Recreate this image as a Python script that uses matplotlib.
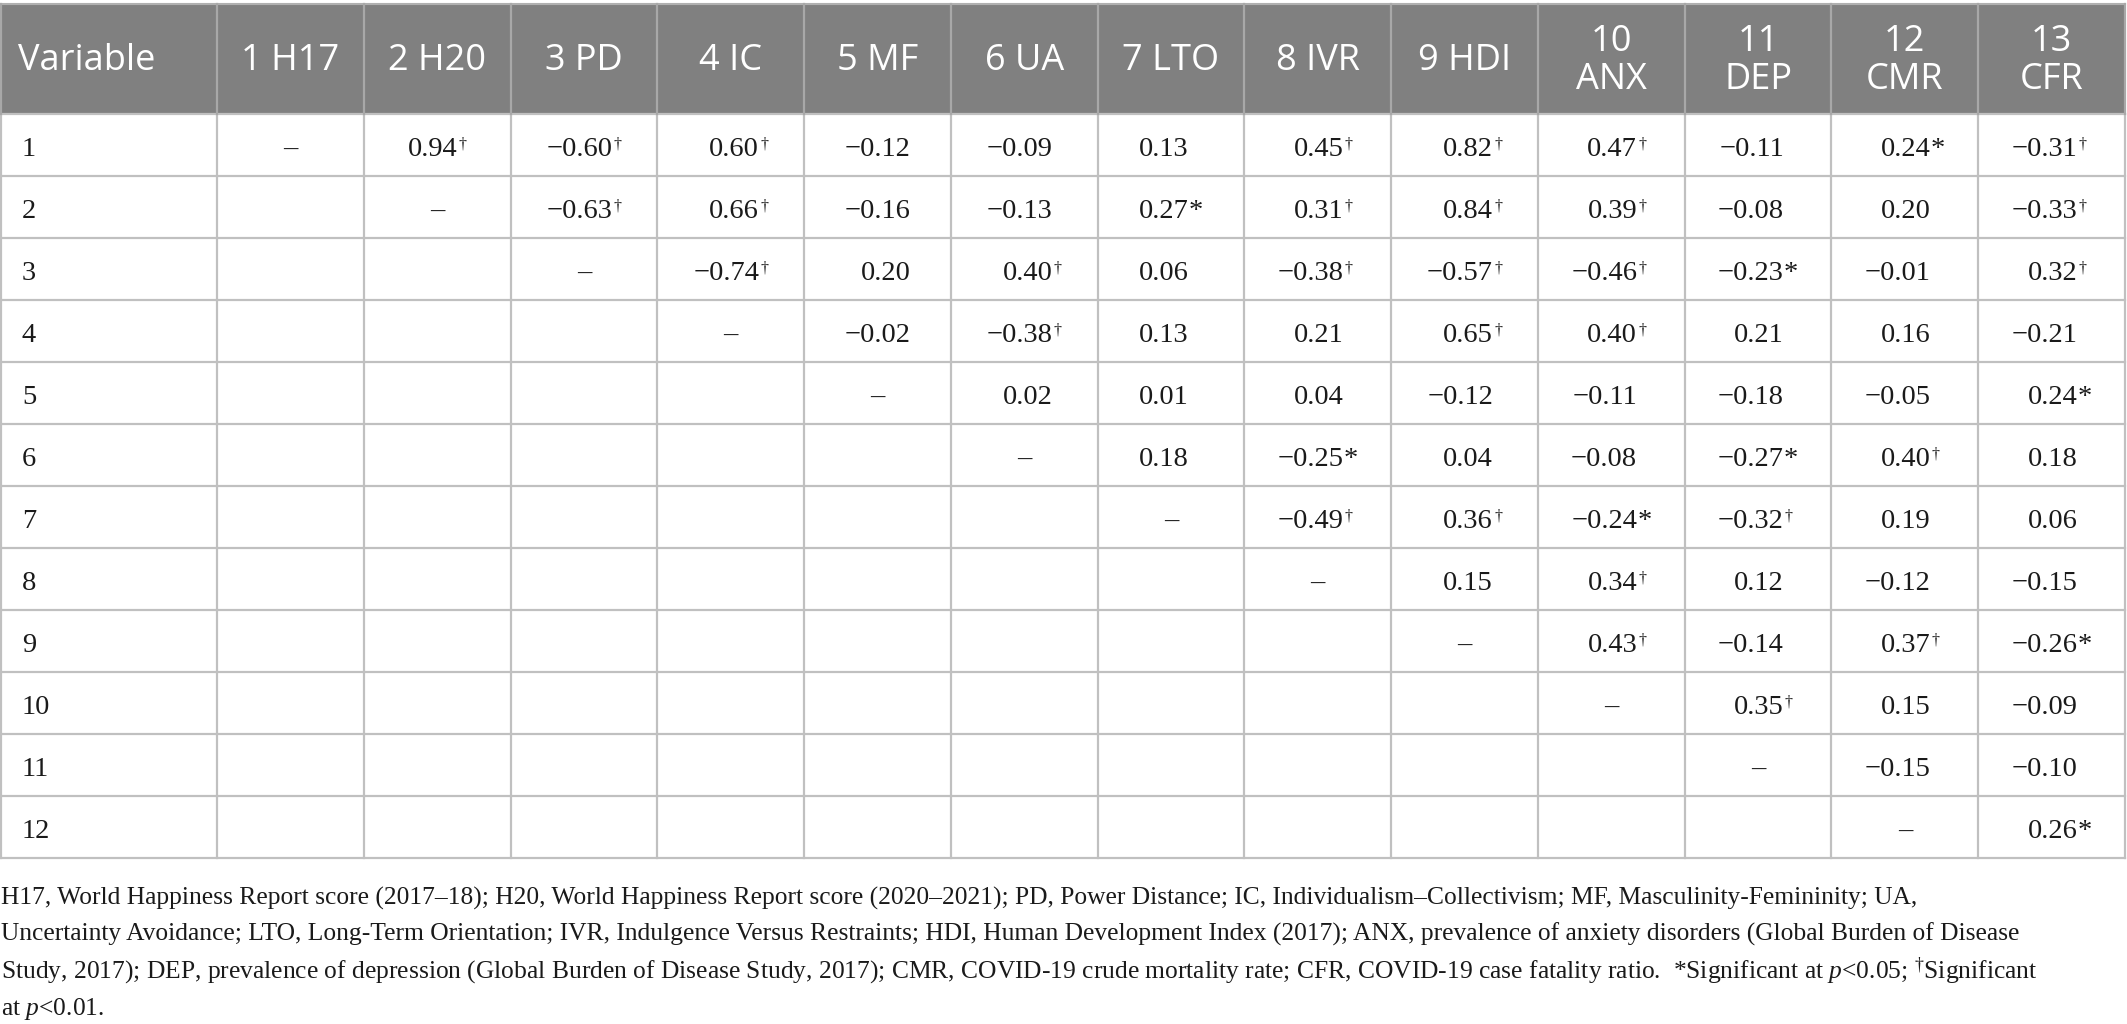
import matplotlib
matplotlib.use("Agg")
import matplotlib.pyplot as plt
from matplotlib.patches import Rectangle

# ---------------- data ----------------
headers = ["1 H17", "2 H20", "3 PD", "4 IC", "5 MF", "6 UA", "7 LTO",
           "8 IVR", "9 HDI", "10\nANX", "11\nDEP", "12\nCMR", "13\nCFR"]
row_labels = [str(i) for i in range(1, 13)]

# correlations of variable k with variables k+1 ... 13
r_1 = [0.94, -0.60, 0.60, -0.12, -0.09, 0.13, 0.45, 0.82, 0.47, -0.11, 0.24, -0.31]
s_1 = ["†", "†", "†", "", "", "", "†", "†", "†", "", "*", "†"]
r_2 = [-0.63, 0.66, -0.16, -0.13, 0.27, 0.31, 0.84, 0.39, -0.08, 0.20, -0.33]
s_2 = ["†", "†", "", "", "*", "†", "†", "†", "", "", "†"]
r_3 = [-0.74, 0.20, 0.40, 0.06, -0.38, -0.57, -0.46, -0.23, -0.01, 0.32]
s_3 = ["†", "", "†", "", "†", "†", "†", "*", "", "†"]
r_4 = [-0.02, -0.38, 0.13, 0.21, 0.65, 0.40, 0.21, 0.16, -0.21]
s_4 = ["", "†", "", "", "†", "†", "", "", ""]
r_5 = [0.02, 0.01, 0.04, -0.12, -0.11, -0.18, -0.05, 0.24]
s_5 = ["", "", "", "", "", "", "", "*"]
r_6 = [0.18, -0.25, 0.04, -0.08, -0.27, 0.40, 0.18]
s_6 = ["", "*", "", "", "*", "†", ""]
r_7 = [-0.49, 0.36, -0.24, -0.32, 0.19, 0.06]
s_7 = ["†", "†", "*", "†", "", ""]
r_8 = [0.15, 0.34, 0.12, -0.12, -0.15]
s_8 = ["", "†", "", "", ""]
r_9 = [0.43, -0.14, 0.37, -0.26]
s_9 = ["†", "", "†", "*"]
r_10 = [0.35, 0.15, -0.09]
s_10 = ["†", "", ""]
r_11 = [-0.15, -0.10]
s_11 = ["", ""]
r_12 = [0.26]
s_12 = ["*"]

r_rows = [r_1, r_2, r_3, r_4, r_5, r_6, r_7, r_8, r_9, r_10, r_11, r_12]
s_rows = [s_1, s_2, s_3, s_4, s_5, s_6, s_7, s_8, s_9, s_10, s_11, s_12]

foot_lines = [
    "H17, World Happiness Report score (2017–18); H20, World Happiness Report score (2020–2021); PD, Power Distance; IC, Individualism–Collectivism; MF, Masculinity-Femininity; UA,",
    "Uncertainty Avoidance; LTO, Long-Term Orientation; IVR, Indulgence Versus Restraints; HDI, Human Development Index (2017); ANX, prevalence of anxiety disorders (Global Burden of Disease",
    r"Study, 2017); DEP, prevalence of depression (Global Burden of Disease Study, 2017); CMR, COVID-19 crude mortality rate; CFR, COVID-19 case fatality ratio.  *Significant at $p$<0.05; ${}^{\dagger}$Significant",
    r"at $p$<0.01.",
]

# ---------------- layout ----------------
plt.rcParams["mathtext.fontset"] = "custom"
plt.rcParams["mathtext.rm"] = "Liberation Serif"
plt.rcParams["mathtext.it"] = "Liberation Serif:italic"

W, H = 2127, 1024
fig = plt.figure(figsize=(W / 100, H / 100), dpi=100)
ax = fig.add_axes([0, 0, 1, 1])
ax.set_xlim(0, W)
ax.set_ylim(H, 0)
ax.axis("off")

ncol = len(headers)
first_w = 217
col_w = (2125 - first_w) / ncol
col_x = [0, first_w] + [first_w + col_w * k for k in range(1, ncol + 1)]
head_top, head_bot = 4, 114
row_h = 62
nrow = len(row_labels)
body_bot = head_bot + row_h * nrow

HEAD_BG = "#808080"
LINE = "#c0c0c0"
TXT = "#1a1a1a"

ax.add_patch(Rectangle((0, head_top), 2125, head_bot - head_top,
                       facecolor=HEAD_BG, edgecolor="none", zorder=1))

# grid lines
ax.plot([0, 2125], [head_top, head_top], color="#b0b0b0", lw=1.5, zorder=3)
for k in range(nrow + 1):
    y = head_bot + row_h * k
    ax.plot([0, 2125], [y, y], color=LINE, lw=1.6, zorder=3)
for i, x in enumerate(col_x):
    xx = min(max(x, 1), 2125)
    ax.plot([xx, xx], [head_bot, body_bot], color=LINE, lw=1.6, zorder=3)
    ax.plot([xx, xx], [head_top, head_bot], color="#a8a8a8", lw=1.6, zorder=3)

# header text
HEADF = dict(family="Open Sans", fontsize=26, color="white")
head_cy = (head_top + head_bot) / 2 + 2
ax.text(18, head_cy, "Variable", ha="left", va="center", zorder=4, **HEADF)
for j, h in enumerate(headers):
    cx = (col_x[j + 1] + col_x[j + 2]) / 2
    ax.text(cx, head_cy, h, ha="center", va="center", linespacing=1.1,
            zorder=4, **HEADF)

# body text
NUM = dict(family="Liberation Serif", fontsize=20.5, color=TXT)
SUP = dict(family="Liberation Serif", fontsize=11.5, color=TXT)
renderer = fig.canvas.get_renderer()


def width_of(s, **kw):
    t = ax.text(0, 0, s, **kw)
    w = t.get_window_extent(renderer).width
    t.remove()
    return w


D = width_of("0.00", **NUM)
M = width_of("\u22120.00", **NUM) - D
S_AST = width_of("0.00*", **NUM) - D
S_DAG = width_of("†", **SUP) + 1

# build grid
cells = {}
for i in range(nrow):
    for k, (v, s) in enumerate(zip(r_rows[i], s_rows[i])):
        cells[(i, i + 1 + k)] = (v, s)

for j in range(ncol):
    cx = (col_x[j + 1] + col_x[j + 2]) / 2
    entries = [cells[(i, j)] for i in range(nrow) if (i, j) in cells]
    has_minus = any(v < 0 for v, _ in entries)
    sup_w = 0
    for _, s in entries:
        if s == "*":
            sup_w = max(sup_w, S_AST)
        elif s == "†":
            sup_w = max(sup_w, S_DAG)
    block = (M if has_minus else 0) + D + sup_w
    x_r = cx - block / 2 + (M if has_minus else 0) + D
    for i in range(nrow):
        cy = head_bot + row_h * i + row_h / 2
        base = cy + 11
        if i == j:
            ax.text(cx, base, "\u2013", ha="center", va="baseline", zorder=4, **NUM)
        elif (i, j) in cells:
            v, s = cells[(i, j)]
            txt = f"{abs(v):.2f}"
            if v < 0:
                txt = "\u2212" + txt
            ax.text(x_r, base, txt, ha="right", va="baseline", zorder=4, **NUM)
            if s == "*":
                ax.text(x_r, base, "*", ha="left", va="baseline", zorder=4, **NUM)
            elif s == "†":
                ax.text(x_r + 1, base - 8, "†", ha="left", va="baseline",
                        zorder=4, **SUP)

for i, lab in enumerate(row_labels):
    cy = head_bot + row_h * i + row_h / 2
    ax.text(22, cy + 11, lab, ha="left", va="baseline", zorder=4, **NUM)

# footnote
FOOT = dict(family="Liberation Serif", color=TXT)
targets = [1920, 2118, 2118]
fsize = min(20 * t / width_of(l, fontsize=20, **FOOT)
            for t, l in zip(targets, foot_lines[:3]))
foot_base = [905, 941, 978, 1015]
for line, yb in zip(foot_lines, foot_base):
    ax.text(1, yb, line, ha="left", va="baseline", fontsize=fsize, zorder=4, **FOOT)

fig.savefig("out.png", dpi=100, facecolor="white")
